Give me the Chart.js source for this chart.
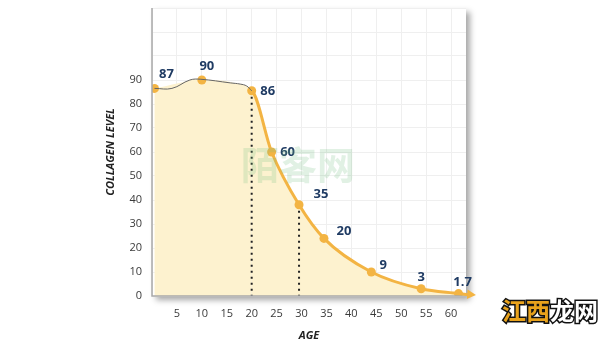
<!DOCTYPE html>
<html>
<head>
<meta charset="utf-8">
<script src="https://cdn.jsdelivr.net/npm/chart.js@4"></script>
<style>
  html, body { margin: 0; padding: 0; background: #fff; }
  #wrap { width: 600px; height: 344px; position: relative; }
</style>
</head>
<body>
<div id="wrap"><canvas id="collagenChart"></canvas></div>
<script>
// values
const ages = [0.5, 10, 20, 24, 29.5, 34.5, 44, 54, 61.5];
const collagen = [86.5, 90, 85.5, 60, 38, 24, 10, 3, 1];
const pointLabels = ['87', '90', '86', '60', '35', '20', '9', '3', '1.7'];
// thin wavy line over the first twenty years
const waveAges = [0.5, 4, 7.6, 9.8, 15.7, 17.7, 19, 20];
const waveLevels = [86.5, 86.5, 90, 90.3, 88.8, 88.3, 87.5, 85.5];
const xTicks = [5, 10, 15, 20, 25, 30, 35, 40, 45, 50, 55, 60];
const yTicks = [0, 10, 20, 30, 40, 50, 60, 70, 80, 90];
const dropLineAges = [20, 29.5];
const arrowTip = [65, 0.4];

const orange = '#f3b443';
const cream = '#fdf2cf';
const navy = '#1f3b63';
const labelOffsets = [[8, -14], [1, -14], [12, 0], [12, 0], [18, -11], [16, -7], [12, -7], [0, -12], [0, -11]];

const frame = {
    id: 'frame',
    beforeDraw(chart) {
        const { ctx, chartArea: a } = chart;
        ctx.save();
        ctx.shadowColor = 'rgba(0,0,0,0.35)';
        ctx.shadowBlur = 6;
        ctx.shadowOffsetX = 4;
        ctx.shadowOffsetY = 4;
        ctx.fillStyle = '#fff';
        ctx.fillRect(a.left, a.top, a.right - a.left, a.bottom - a.top);
        ctx.restore();
    },
    afterDatasetsDraw(chart) {
        const { ctx, chartArea: a, scales: { x, y } } = chart;
        ctx.save();
        // dotted drop lines
        ctx.strokeStyle = '#222';
        ctx.lineWidth = 2;
        ctx.setLineDash([2, 4]);
        dropLineAges.forEach(age => {
            const i = ages.indexOf(age);
            const px = x.getPixelForValue(age);
            ctx.beginPath();
            ctx.moveTo(px, y.getPixelForValue(collagen[i]) + 6);
            ctx.lineTo(px, y.getPixelForValue(0));
            ctx.stroke();
        });
        ctx.setLineDash([]);
        // axis lines
        ctx.strokeStyle = '#a9a9a9';
        ctx.lineWidth = 1.5;
        ctx.beginPath();
        ctx.moveTo(a.left, a.top);
        ctx.lineTo(a.left, a.bottom);
        ctx.lineTo(a.right, a.bottom);
        ctx.stroke();
        // arrow at the end of the curve
        const last = ages.length - 1;
        const x0 = x.getPixelForValue(ages[last]), y0 = y.getPixelForValue(collagen[last]);
        const x1 = x.getPixelForValue(arrowTip[0]), y1 = y.getPixelForValue(arrowTip[1]);
        ctx.strokeStyle = orange;
        ctx.lineWidth = 3;
        ctx.beginPath();
        ctx.moveTo(x0, y0);
        ctx.lineTo(x1 - 6, y1);
        ctx.stroke();
        const ang = Math.atan2(y1 - y0, x1 - x0);
        ctx.fillStyle = orange;
        ctx.beginPath();
        ctx.moveTo(x1, y1);
        ctx.lineTo(x1 - 10 * Math.cos(ang - 0.5), y1 - 10 * Math.sin(ang - 0.5));
        ctx.lineTo(x1 - 10 * Math.cos(ang + 0.5), y1 - 10 * Math.sin(ang + 0.5));
        ctx.closePath();
        ctx.fill();
        // value labels
        ctx.fillStyle = navy;
        ctx.font = 'bold 13px "Open Sans", Lato, sans-serif';
        ctx.textAlign = 'center';
        ctx.textBaseline = 'middle';
        pointLabels.forEach((t, i) => {
            const px = x.getPixelForValue(ages[i]) + labelOffsets[i][0];
            const py = y.getPixelForValue(collagen[i]) + labelOffsets[i][1];
            ctx.fillText(t, px + (t.length > 1 ? 4 : 0), py);
        });
        // watermarks
        ctx.font = 'bold 38px "Noto Sans CJK SC"';
        ctx.fillStyle = 'rgba(120,190,130,0.22)';
        ctx.fillText('陌客网', 298, 165);
        ctx.font = 'bold 24px "Noto Sans CJK SC"';
        ctx.textAlign = 'left';
        ctx.lineWidth = 3;
        ctx.strokeStyle = '#111';
        ctx.strokeText('江西', 502, 311);
        ctx.fillStyle = '#e8a21c';
        ctx.fillText('江西', 502, 311);
        ctx.strokeText('龙网', 550, 311);
        ctx.fillStyle = '#fff';
        ctx.fillText('龙网', 550, 311);
        ctx.restore();
    }
};

new Chart(document.getElementById('collagenChart'), {
    type: 'line',
    data: {
        datasets: [{
            label: 'wave',
            data: waveAges.map((a, i) => ({ x: a, y: waveLevels[i] })),
            borderColor: '#666',
            borderWidth: 1,
            backgroundColor: cream,
            fill: 'origin',
            pointRadius: 0,
            tension: 0.4,
            order: 0
        }, {
            label: 'Collagen level',
            data: ages.map((a, i) => ({ x: a, y: collagen[i] })),
            borderColor: orange,
            borderWidth: 3,
            backgroundColor: cream,
            fill: 'origin',
            pointRadius: 4.5,
            pointBackgroundColor: orange,
            pointBorderWidth: 0,
            cubicInterpolationMode: 'monotone',
            segment: {
                borderColor: ctx => ctx.p1.parsed.x <= 20 ? 'rgba(0,0,0,0)' : orange
            },
            order: 1
        }]
    },
    options: {
        responsive: true,
        maintainAspectRatio: false,
        animation: false,
        layout: { padding: { left: 104, right: 134, top: 8, bottom: 0 } },
        plugins: {
            legend: { display: false },
            tooltip: { enabled: false },
            filler: { drawTime: 'beforeDatasetsDraw' }
        },
        scales: {
            x: {
                type: 'linear',
                min: 0,
                max: 63,
                afterBuildTicks: s => { s.ticks = [0].concat(xTicks).map(v => ({ value: v })); },
                afterFit: s => { s.height = 48; s.paddingLeft = 0; s.paddingRight = 0; },
                border: { display: false },
                grid: { color: '#efefef', drawTicks: false },
                ticks: {
                    padding: 11,
                    color: '#3a3a3a',
                    font: { family: '"Open Sans", Lato, sans-serif', size: 11 },
                    callback: v => v === 0 ? '' : v
                },
                title: {
                    display: true,
                    text: 'AGE',
                    color: '#222',
                    padding: { top: 4, bottom: 2 },
                    font: { family: '"Open Sans", Lato, sans-serif', size: 11, weight: 'bold', style: 'italic' }
                }
            },
            y: {
                min: 0,
                max: 120,
                afterBuildTicks: s => { s.ticks = yTicks.concat([100, 110, 120]).map(v => ({ value: v })); },
                afterFit: s => { s.width = 48; s.paddingTop = 0; s.paddingBottom = 0; },
                border: { display: false },
                grid: { color: '#efefef', drawTicks: false },
                ticks: {
                    padding: 10,
                    color: '#3a3a3a',
                    font: { family: '"Open Sans", Lato, sans-serif', size: 11 },
                    callback: v => v <= 90 ? v : ''
                },
                title: {
                    display: true,
                    text: 'COLLAGEN LEVEL',
                    color: '#222',
                    padding: { top: 0, bottom: 4 },
                    font: { family: '"Open Sans", Lato, sans-serif', size: 11, weight: 'bold', style: 'italic' }
                }
            }
        }
    },
    plugins: [frame]
});
</script>
</body>
</html>
